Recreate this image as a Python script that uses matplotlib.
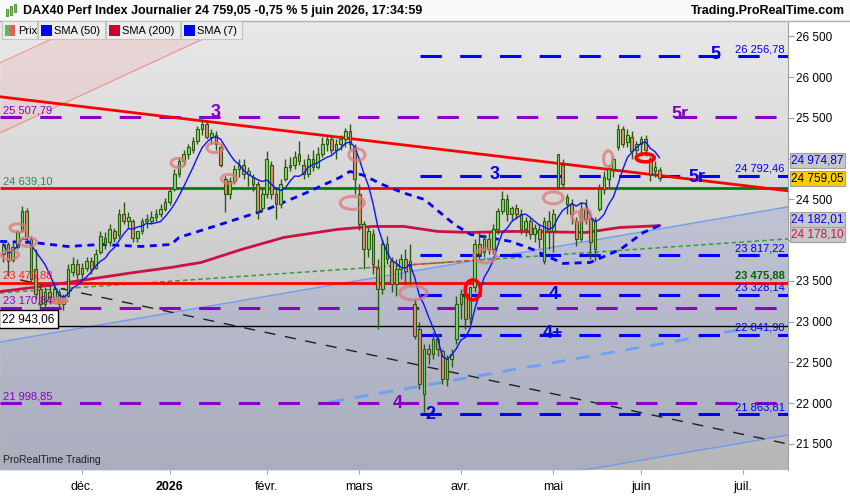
import numpy as np
import pandas as pd
import matplotlib
matplotlib.use("Agg")
import matplotlib.pyplot as plt
import matplotlib.transforms as mtransforms
from matplotlib.patches import Ellipse, Rectangle
from matplotlib.colors import LinearSegmentedColormap

plt.rcParams['font.family'] = ['Liberation Sans', 'DejaVu Sans']

# --- daily candles DAX40, 6 nov 2025 -> 5 juin 2026
opens = [23825, 23948, 23760, 23920, 24130, 24353, 24009, 23641, 23396, 23212,
         23359, 23273, 23370, 23212, 23320, 23615, 23702, 23580, 23665, 23740,
         23665, 23860, 24030, 23972, 24110, 24060, 24316, 24230, 24230, 24030,
         24110, 24230, 24230, 24280, 24316, 24377, 24463, 24623, 24807, 24966,
         25052, 25113, 25212, 25359, 25420, 25261, 25297, 25138, 24745, 24561,
         24721, 24868, 24929, 24807, 24770, 24684, 24400, 24561, 24929, 24561,
         24439, 24745, 24893, 24929, 25052, 24929, 24807, 24991, 24893, 25052,
         25175, 25236, 25113, 25175, 25236, 25334, 25138, 24561, 24193, 23886,
         24071, 23665, 23396, 23948, 23740, 23457, 23641, 23764, 23641, 23212,
         22905, 22108, 22659, 22598, 22782, 22635, 22291, 22537, 22782, 23212,
         23334, 23050, 23420, 23948, 23860, 24009, 23886, 24132, 24353, 24500,
         24316, 24400, 24316, 24132, 24230, 24071, 24132, 23740, 24230, 24110,
         24647, 24929, 24525, 24439, 24230, 24009, 24377, 24255, 23886, 24377,
         24623, 24745, 24868, 25138, 25359, 25200, 25261, 25113, 25175, 25236,
         24991, 24844, 24860]
highs = [23985, 23972, 23972, 24130, 24414, 24400, 24046, 23886, 23457, 23420,
         23432, 23481, 23396, 23334, 23702, 23800, 23764, 23720, 23790, 23800,
         23886, 24110, 24095, 24193, 24150, 24377, 24463, 24340, 24255, 24110,
         24270, 24320, 24353, 24377, 24439, 24520, 24650, 24868, 25015, 25113,
         25175, 25261, 25396, 25482, 25460, 25359, 25334, 25175, 24790, 24770,
         24929, 24991, 24991, 24893, 24807, 24721, 24623, 25089, 24966, 24640,
         24745, 24991, 25015, 25089, 25212, 24991, 25052, 25113, 25138, 25261,
         25297, 25297, 25236, 25297, 25383, 25420, 25175, 24684, 24230, 24160,
         24132, 23764, 24009, 24046, 23790, 23764, 23825, 23886, 23948, 23273,
         23000, 22721, 22721, 22868, 22843, 22659, 22586, 22659, 23310, 23396,
         23396, 23420, 24009, 24095, 24071, 24110, 24193, 24400, 24598, 24561,
         24420, 24439, 24377, 24280, 24280, 24193, 24193, 24280, 24353, 24377,
         25052, 24991, 24561, 24500, 24280, 24463, 24500, 24316, 24280, 24684,
         24844, 24929, 25015, 25420, 25396, 25359, 25334, 25212, 25273, 25297,
         25015, 24966, 24893]
lows = [23727, 23555, 23727, 23886, 24095, 24009, 23481, 23273, 23150, 23175,
        23212, 23236, 23150, 23140, 23300, 23555, 23518, 23518, 23620, 23580,
        23641, 23825, 23886, 23923, 23972, 24030, 24193, 24150, 23972, 23972,
        24071, 24150, 24193, 24230, 24280, 24353, 24430, 24598, 24770, 24929,
        24991, 25070, 25175, 25297, 25236, 25175, 25113, 24893, 24340, 24500,
        24684, 24770, 24745, 24660, 24598, 24255, 24353, 24520, 24500, 24255,
        24400, 24721, 24844, 24868, 24929, 24745, 24770, 24844, 24868, 25015,
        25089, 25052, 24991, 25113, 25138, 25113, 24561, 24120, 23641, 23800,
        23580, 22905, 23334, 23702, 23370, 23310, 23518, 23457, 23432, 22782,
        22169, 21886, 22476, 22537, 22574, 22230, 22206, 22440, 22721, 23027,
        22905, 22990, 23370, 23764, 23790, 23825, 23825, 24071, 24316, 24230,
        24230, 24255, 24071, 24046, 24009, 23972, 23910, 23702, 23886, 23850,
        24623, 24623, 24316, 24193, 23923, 23985, 24193, 23764, 23740, 24353,
        24561, 24623, 24770, 25113, 25138, 25138, 24991, 25015, 25052, 25030,
        24721, 24770, 24721]
closes = [23948, 23740, 23920, 24095, 24353, 24046, 23518, 23334, 23212, 23359,
          23273, 23396, 23212, 23310, 23641, 23702, 23580, 23665, 23740, 23641,
          23825, 24046, 23948, 24132, 24030, 24316, 24230, 24280, 24030, 24110,
          24230, 24255, 24280, 24316, 24377, 24463, 24598, 24807, 24966, 25052,
          25138, 25212, 25359, 25420, 25261, 25320, 25175, 24929, 24561, 24721,
          24868, 24929, 24807, 24844, 24684, 24353, 24561, 24991, 24561, 24439,
          24684, 24893, 24929, 25015, 24966, 24807, 24991, 24893, 25052, 25175,
          25236, 25113, 25175, 25236, 25334, 25175, 24745, 24193, 23886, 24110,
          23702, 23396, 23948, 23764, 23457, 23641, 23764, 23620, 23740, 22819,
          22230, 22659, 22598, 22782, 22659, 22291, 22537, 22598, 23212, 23334,
          23027, 23420, 23948, 23825, 24009, 23886, 24132, 24353, 24500, 24316,
          24400, 24316, 24132, 24230, 24071, 24150, 24009, 24230, 24110, 24316,
          25052, 24684, 24439, 24316, 24009, 24377, 24255, 23972, 24230, 24623,
          24770, 24868, 24991, 25359, 25175, 25297, 25089, 25175, 25236, 25113,
          24807, 24893, 24759.05]

# moving averages (candle index, value)
sma50_idx = [-0.7, 6.5, 13.9, 21.1, 29.8, 36.3, 38.0, 48.3, 57.0, 65.7, 72.8, 75.0,
             78.0, 82.0, 86.3, 91.1, 97.6, 101.1, 109.8, 114.6, 121.1, 127.0,
             133.5, 138.5, 142.0]
sma50_val = [23985, 23972, 23923, 23948, 23923, 23948, 24034, 24218, 24377, 24586,
             24770, 24844, 24795, 24684, 24586, 24500, 24193, 24071, 23985, 23886,
             23715, 23727, 23886, 24095, 24182.01]
sma200_idx = [-0.7, 6.5, 13.9, 21.1, 28.3, 36.3, 42.8, 51.5, 60.7, 72.2, 79.8,
              86.7, 93.9, 101.1, 110.2, 126.1, 133.5, 142.0]
sma200_val = [23370, 23420, 23481, 23543, 23604, 23666, 23727, 23886, 24034, 24132,
              24169, 24169, 24108, 24095, 24108, 24095, 24157, 24178.10]

# horizontal levels
purple_levels = [25507.79, 23170.84, 21998.85]
purple_texts = ["25 507,79", "23 170,84", "21 998,85"]
blue_levels = [26256.78, 24792.46, 23817.22, 23328.14, 22841.90, 21863.81]
blue_texts = ["26 256,78", "24 792,46", "23 817,22", "23 328,14", "22 841,90", "21 863,81"]
level_green = 24639.10
level_red = 23475.88
level_black = 22943.06
# colour changes of the 24 639,10 line (index bounds)
green_line_cuts = [-0.7, 36.3, 76.5, 130.9, 170]
green_line_cols = ['#ff0000', '#008000', '#ff0000', '#008000']

# trend lines (index, price)
red_trend = [(-0.7, 25760), (169.8, 24606)]
chan_up = [(-0.7, 22751), (169.8, 24409)]
chan_low = [(-0.7, 19951), (169.8, 21609)]
pink_a = [(-0.7, 25318), (60, 26910)]
pink_b = [(-0.7, 26177), (60, 27770)]
green_dash = [(-0.7, 23353), (169.8, 24016)]
red_dash_span = (79.8, 102.0)
black_dash = [(3.6, 23513), (169.8, 21499)]
lblue_dash = [(70.7, 22014), (161.6, 22923)]

# wave labels (index, price, text, colour)
waves = [(154.2, 26276, "5", '#0000ee'), (146.5, 25539, "5r", '#8000c0'),
         (150.1, 24765, "5r", '#0000ee'), (46.0, 25563, "3", '#8000c0'),
         (106.4, 24802, "3", '#0000ee'), (119.0, 23328, "4", '#0000ee'),
         (119.0, 22850, "4+", '#0000ee'), (85.4, 22002, "4", '#8000c0'),
         (92.3, 21855, "2", '#0000ee')]

# circled swing points (index, price, width, height)
rings = [(1.43, 23820, 3.7, 110), (3.16, 24151, 3.5, 100), (5.32, 23979, 3.7, 110),
         (37.8, 24949, 3.0, 110), (45.8, 25134, 3.5, 120), (48.8, 24753, 3.3, 110),
         (76.5, 25048, 3.5, 147), (75.5, 24458, 5.2, 160), (88.7, 23353, 5.9, 172),
         (104.2, 23807, 4.8, 172), (119.0, 24520, 4.3, 147), (124.2, 24286, 2.4, 123),
         (125.9, 24311, 2.4, 147), (130.9, 25000, 2.0, 196)]
filled_ring = (11.8, 23255, 4.3, 75)
red_rings = [(138.9, 25011, 3.9, 98), (101.6, 23390, 3.3, 245)]

month_labels = ["déc.", "2026", "févr.", "mars", "avr.", "mai", "juin", "juil."]

# trading calendar (Xetra holidays removed)
days = pd.bdate_range("2025-11-06", "2026-08-31")
holidays = pd.to_datetime(["2025-12-24", "2025-12-25", "2025-12-26", "2025-12-31",
                           "2026-01-01", "2026-04-03", "2026-04-06", "2026-05-01",
                           "2026-05-25"])
days = days[~days.isin(holidays)]
month_start = [i for i in range(1, len(days)) if days[i].month != days[i - 1].month]
month_start = month_start[:len(month_labels)]

o = np.array(opens, float)
h = np.array(highs, float)
l = np.array(lows, float)
c = np.array(closes, float)
x = np.arange(len(c))

W, H = 850, 500
fig = plt.figure(figsize=(8.5, 5), dpi=100)
fig.patch.set_facecolor('white')


def fx(px):
    return px / W


def fy(py):
    return 1 - py / H


ax = fig.add_axes([0, fy(470), fx(788), (470 - 21) / H])
XMIN, XMAX = -0.74, 169.8
YMIN, YMAX = 21180, 26690

# background gradient, light at the top
grad = np.linspace(0, 1, 256).reshape(-1, 1)
bg = LinearSegmentedColormap.from_list('bg', ['#e9e9e9', '#b6b6b6'])
ax.imshow(grad, aspect='auto', cmap=bg, origin='upper',
          extent=[XMIN, XMAX, YMIN, YMAX], zorder=0)
ax.set_xlim(XMIN, XMAX)
ax.set_ylim(YMIN, YMAX)

xs = np.array([XMIN, XMAX])


def line_at(pts, xv):
    (x1, y1), (x2, y2) = pts
    return y1 + (np.asarray(xv) - x1) * (y2 - y1) / (x2 - x1)


# channels
ax.fill_between(xs, line_at(chan_low, xs), line_at(chan_up, xs), color='#8a98d0',
                alpha=0.28, lw=0, zorder=1)
ax.plot(xs, line_at(chan_up, xs), color='#6f9cf0', lw=1, zorder=2)
ax.plot(xs, line_at(chan_low, xs), color='#6f9cf0', lw=1, zorder=2)
ax.fill_between(xs, line_at(pink_a, xs), line_at(pink_b, xs), color='#f0b0b0',
                alpha=0.3, lw=0, zorder=1)
ax.plot(xs, line_at(pink_a, xs), color='#f08080', lw=0.8, alpha=0.8, zorder=2)
ax.plot(xs, line_at(pink_b, xs), color='#f08080', lw=0.8, alpha=0.8, zorder=2)

# green / red thin dashed line
ax.plot(xs, line_at(green_dash, xs), color='#3c9a3c', lw=1.1, ls=(0, (3, 2)), zorder=2)
rx = np.array(red_dash_span)
ax.plot(rx, line_at(green_dash, rx), color='#ff3030', lw=1.2, ls=(0, (3, 2)), zorder=2)
# black long dashed
bx = np.array([black_dash[0][0], XMAX])
ax.plot(bx, line_at(black_dash, bx), color='#202020', lw=1, ls=(0, (8, 7)), zorder=2)
# light blue dashed
lx = np.array([lblue_dash[0][0], lblue_dash[1][0]])
ax.plot(lx, line_at(lblue_dash, lx), color='#6ea0f5', lw=2, ls=(0, (5, 4)), zorder=2)

# horizontal levels
for lev in purple_levels:
    ax.axhline(lev, color='#8a00c8', lw=2.2, ls=(0, (7, 6)), zorder=3)
for lev in blue_levels:
    ax.hlines(lev, 90.2, XMAX, color='#0000ff', lw=2.2, ls=(0, (7, 6)), zorder=3)
ax.axhline(level_black, color='black', lw=1, zorder=3)
ax.axhline(level_red, color='#ff0000', lw=2, zorder=3)
for i, col in enumerate(green_line_cols):
    ax.hlines(level_green, green_line_cuts[i], green_line_cuts[i + 1], color=col,
              lw=2, zorder=3)

# red falling trend line
ax.plot(xs, line_at(red_trend, xs), color='#ff0000', lw=2, zorder=4)

# moving averages
ax.plot(sma200_idx, sma200_val, color='#cc1144', lw=2, zorder=4)
ax.plot(sma50_idx, sma50_val, color='#0000ff', lw=2, ls=(0, (2.5, 2)), zorder=4)
sma7 = pd.Series(c).rolling(7, min_periods=1).mean()
ax.plot(x, sma7, color='#1010ff', lw=1, zorder=7)

# candles
up = c >= o
edge = '#2a5a12'
ax.vlines(x, l, h, color=edge, lw=1, zorder=5)
ax.bar(x, np.maximum(np.abs(c - o), 8), bottom=np.minimum(o, c), width=0.58,
       color=np.where(up, '#7ee05a', '#e88a74'), edgecolor=edge, lw=0.8, zorder=6)

# rings
for (cx, cy, w, hh) in rings:
    ax.add_patch(Ellipse((cx, cy), w, hh, fill=False, ec='#e07878', lw=2.2,
                         alpha=0.75, zorder=8))
cx, cy, w, hh = filled_ring
ax.add_patch(Ellipse((cx, cy), w, hh, fc='#e07878', ec='#e07878', alpha=0.85, zorder=8))
for (cx, cy, w, hh) in red_rings:
    ax.add_patch(Ellipse((cx, cy), w, hh, fill=False, ec='#ff0000', lw=2.6, zorder=8))

# wave labels
for (wx, wy, txt, col) in waves:
    ax.text(wx, wy, txt, color=col, fontsize=13, fontweight='bold', ha='center',
            va='center', zorder=9)

# level labels
trans = mtransforms.blended_transform_factory(ax.transAxes, ax.transData)
for lev, txt in zip(purple_levels, purple_texts):
    ax.text(0.004, lev + 25, txt, transform=trans, color='#8a00c8', fontsize=8,
            va='bottom', zorder=9)
ax.text(0.004, level_green + 25, "24 639,10", transform=trans, color='#2e8b57',
        fontsize=8, va='bottom', zorder=9)
ax.text(0.004, level_red + 25, "23 475,88", transform=trans, color='#ff2020',
        fontsize=8, va='bottom', zorder=9)
ax.text(0.003, level_black + 85, "22 943,06", transform=trans, color='black',
        fontsize=8.5, va='center', zorder=9,
        bbox=dict(boxstyle='square,pad=0.25', fc='white', ec='black', lw=1))
for lev, txt in zip(blue_levels, blue_texts):
    ax.text(0.996, lev + 25, txt, transform=trans, color='#0000ee', fontsize=8,
            ha='right', va='bottom', zorder=9)
ax.text(0.996, level_red + 25, "23 475,88", transform=trans, color='#006400',
        fontsize=8, fontweight='bold', ha='right', va='bottom', zorder=9)

ax.text(0.004, 0.012, "ProRealTime Trading", transform=ax.transAxes, fontsize=7.5,
        color='#202020', va='bottom', zorder=9)

# axes styling
for s in ['top', 'left', 'bottom']:
    ax.spines[s].set_visible(False)
ax.spines['right'].set_color('#a0a0a0')
ax.yaxis.tick_right()
yt = np.arange(21500, 26501, 500)
ax.set_yticks(yt)
# 25 000 and 24 000 sit under the value boxes
ax.set_yticklabels(["" if v in (25000, 24000) else f"{v:,.0f}".replace(",", " ")
                    for v in yt])
ax.tick_params(axis='y', length=4, color='#a0a0a0', labelsize=8.5, pad=2)
ax.set_xticks(month_start)
ax.set_xticklabels(month_labels, family=['Liberation Sans Narrow', 'Liberation Sans'])
ax.tick_params(axis='x', length=3, color='#a0a0a0', labelsize=9, pad=5)
for lab in ax.get_xticklabels():
    if lab.get_text() == "2026":
        lab.set_fontweight('bold')

# value boxes on the price scale (position on the scale, label, colours)
tags = [(24974.87, "24 974,87", '#0000ee', '#c8c8c8'),
        (24759.05, "24 759,05", 'black', '#ffcc00'),
        (24255.0, "24 182,01", '#0000ee', '#c8c8c8'),
        (24065.0, "24 178,10", '#cc1144', '#c8c8c8')]
for val, txt, tc, fc in tags:
    ax.text(1.004, val, txt, transform=trans, color=tc, fontsize=8.5, va='center',
            ha='left', clip_on=False, zorder=10,
            bbox=dict(boxstyle='square,pad=0.12', fc=fc, ec='#a0a0a0', lw=0.8))

# header
fig.patches.append(Rectangle((0, fy(21)), 1, 21 / H, transform=fig.transFigure,
                             fc='#fafafa', ec='none', zorder=0))
fig.lines.append(plt.Line2D([0, 1], [fy(21), fy(21)], transform=fig.transFigure,
                            color='#b0b0b0', lw=1))
for (bx0, by0, bh) in [(6, 9, 7), (10, 6, 9), (14, 4, 8)]:
    fig.patches.append(Rectangle((fx(bx0), fy(by0 + bh)), 2.4 / W, bh / H,
                                 transform=fig.transFigure, fc='#66cc44', ec='#2a7a12',
                                 lw=0.5))
fig.text(fx(23), fy(11), "DAX40 Perf Index Journalier 24 759,05 -0,75 % 5 juin 2026, 17:34:59",
         fontsize=9, fontweight='bold', va='center', ha='left')
fig.text(fx(845), fy(11), "Trading.ProRealTime.com", fontsize=9, fontweight='bold',
         va='center', ha='right')

legend_items = [(2, 37, "Prix", None), (38, 105, "SMA (50)", '#0000ff'),
                (106, 180, "SMA (200)", '#cc0033'), (181, 242, "SMA (7)", '#0000ff')]
for x0, x1, txt, col in legend_items:
    fig.patches.append(Rectangle((fx(x0), fy(39)), (x1 - x0) / W, 18 / H,
                                 transform=fig.transFigure, fc='#ededed', ec='#c4c4c4',
                                 lw=0.8, zorder=20))
    if col is None:
        fig.patches.append(Rectangle((fx(x0 + 3), fy(36)), 5 / W, 11 / H,
                                     transform=fig.transFigure, fc='#55bb55', ec='none', zorder=21))
        fig.patches.append(Rectangle((fx(x0 + 8), fy(36)), 5 / W, 11 / H,
                                     transform=fig.transFigure, fc='#e06060', ec='none', zorder=21))
    else:
        fig.patches.append(Rectangle((fx(x0 + 3), fy(36)), 11 / W, 11 / H,
                                     transform=fig.transFigure, fc=col, ec='none', zorder=21))
    fig.text(fx(x0 + 16), fy(30.5), txt, fontsize=8, va='center', ha='left', zorder=22)

fig.savefig("out.png", dpi=100)
